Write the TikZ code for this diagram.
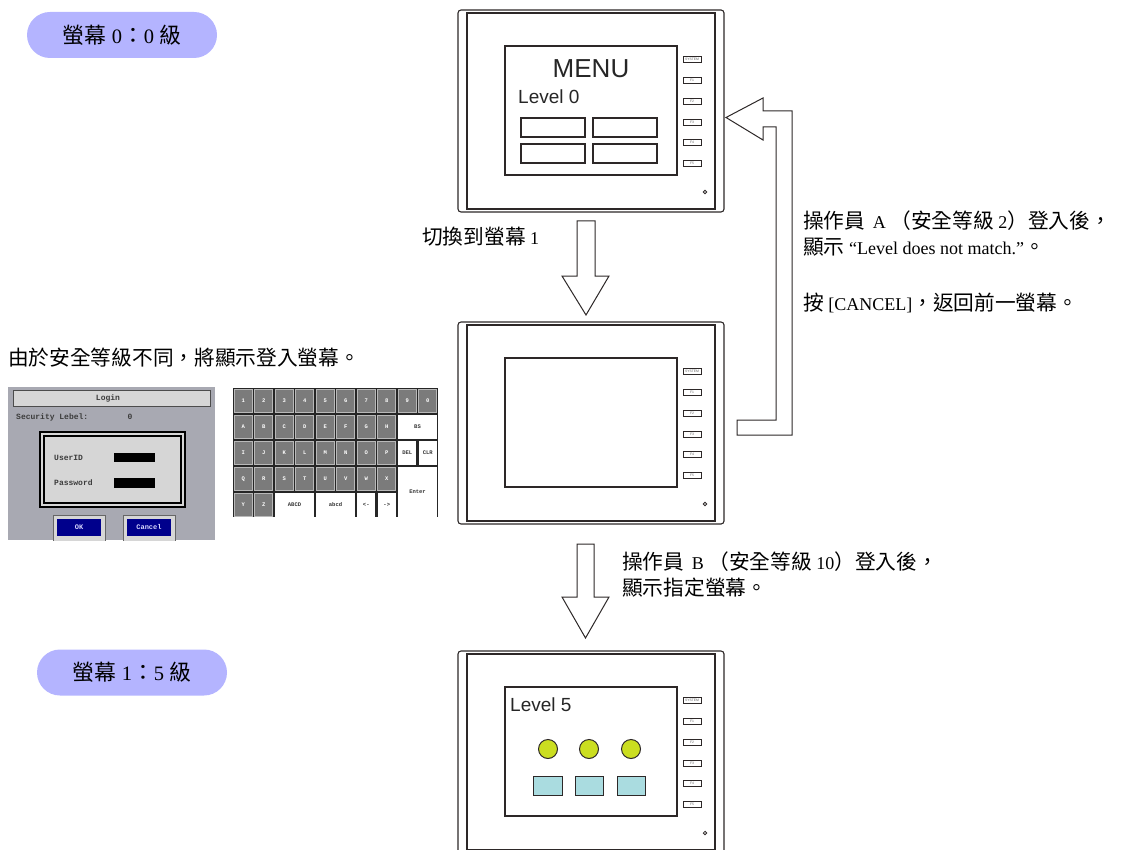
\documentclass[tikz,border=0pt]{standalone}
\usepackage{fontspec}
\setmainfont{Liberation Serif}
\newfontfamily\zhfont[Scale=1.15]{Noto Sans CJK TC}
\newfontfamily\zhpill[Scale=1.066]{Noto Sans CJK TC}
\newfontfamily\arialfont{Liberation Sans}
\newfontfamily\monofont{Liberation Mono}
\newcommand\zh[1]{{\zhfont #1}}
\newcommand\zp[1]{{\zhpill #1}}

\definecolor{pillblue}{RGB}{180,180,255}
\definecolor{outline}{RGB}{45,40,40}
\definecolor{lampgreen}{RGB}{203,222,32}
\definecolor{tilecyan}{RGB}{170,220,224}
\definecolor{loginbg}{RGB}{168,169,178}
\definecolor{loginlight}{RGB}{214,214,214}
\definecolor{logintext}{RGB}{60,60,60}
\definecolor{btnblue}{RGB}{0,0,140}
\definecolor{keygray}{RGB}{123,123,123}
\definecolor{keyedge}{RGB}{185,185,185}

% one operator panel: #1 = name prefix, #2 = top edge
\newcommand\hmipanel[2]{%
  \begin{scope}[shift={(0,#2)}]
    \draw[frame, rounded corners=3pt] (458,0) rectangle (724,202);
    \draw[frame] (467,3) rectangle (715,199);
    \node[screenbox] (#1-screen) at (591,100.5) {};
    \foreach \i/\lab in {0/SYSTEM,1/F1,2/F2,3/F3,4/F4,5/F5}
      {\node[fkey] (#1-key\i) at (692,{49.5+20.8*\i}) {\lab};}
    \node[led] (#1-led) at (705,182) {};
  \end{scope}}

% keyboard key: #1 col, #2 row, #3 col span, #4 row span, #5 style, #6 label
\newcommand\kbkey[6]{%
  \node[#5, minimum width={#3*20.5-2.4}, minimum height={#4*26-2.4}]
    (kb-#1-#2) at ({233+(#1+#3/2)*20.5},{388+(#2+#4/2)*26}) {#6};}

\begin{document}
\begin{tikzpicture}[x=1pt,y=-1pt,
  frame/.style={draw=outline, line width=1.1pt},
  screenbox/.style={draw=outline, line width=1.1pt, fill=white, inner sep=0pt,
    minimum width=172pt, minimum height=129pt},
  fkey/.style={draw=outline, line width=0.6pt, fill=white, inner sep=0pt,
    minimum width=18pt, minimum height=6pt, text=black!60,
    font=\arialfont\fontsize{3.4}{3.4}\selectfont},
  led/.style={circle, draw=outline, line width=0.8pt, inner sep=0pt, minimum size=3.4pt},
  menubtn/.style={draw=outline, line width=1.1pt, inner sep=0pt,
    minimum width=64pt, minimum height=19pt},
  lamp/.style={circle, draw=outline, line width=1pt, fill=lampgreen, inner sep=0pt,
    minimum size=19pt},
  tile/.style={draw=outline, line width=1pt, fill=tilecyan, inner sep=0pt,
    minimum height=19pt},
  pillbox/.style={fill=pillblue, rounded corners=23pt, inner sep=0pt,
    minimum width=190pt, minimum height=46pt,
    font=\fontsize{20.5}{20.5}\selectfont},
  note/.style={inner sep=0pt, anchor=west, align=left,
    font=\fontsize{18}{26}\selectfont},
  blockarrow/.style={draw=outline, line width=1pt, fill=white, line join=miter},
  logintxt/.style={inner sep=0pt, text=logintext,
    font=\monofont\bfseries\fontsize{8}{8}\selectfont},
  graykey/.style={fill=keygray, draw=keyedge, line width=1.2pt, inner sep=0pt,
    text=white, font=\monofont\bfseries\fontsize{5.5}{5.5}\selectfont},
  whitekey/.style={fill=white, inner sep=0pt, text=black!80,
    font=\monofont\bfseries\fontsize{5.5}{5.5}\selectfont}
]
\useasboundingbox (0,0) rectangle (1126,850);
\clip (0,0) rectangle (1126,850);

% ---- screen level labels ----
\node[pillbox] (lvlA) at (122,35) {\zp{螢幕} 0\zp{：}0 \zp{級}};
\node[pillbox] (lvlB) at (132,672.5) {\zp{螢幕} 1\zp{：}5 \zp{級}};

% ---- three operator panels ----
\hmipanel{menu}{10}
\hmipanel{login}{322}
\hmipanel{target}{651}

% MENU screen content
\node[inner sep=0pt, anchor=base, text=black!85,
  font=\arialfont\fontsize{26}{26}\selectfont] (menutitle) at (591,78) {MENU};
\node[inner sep=0pt, anchor=base west, text=black!85,
  font=\arialfont\fontsize{19}{19}\selectfont] (menulevel) at (518,104) {Level 0};
\node[menubtn] (mb1) at (553,127.5) {};
\node[menubtn] (mb2) at (625,127.5) {};
\node[menubtn] (mb3) at (553,153.5) {};
\node[menubtn] (mb4) at (625,153.5) {};

% level-5 screen content
\node[inner sep=0pt, anchor=base west, text=black!85,
  font=\arialfont\fontsize{19}{19}\selectfont] (tgtlevel) at (510,711) {Level 5};
\node[lamp] (lamp1) at (548,749) {};
\node[lamp] (lamp2) at (589,749) {};
\node[lamp] (lamp3) at (631,749) {};
\node[tile, minimum width=29pt] (tile1) at (547.5,785.5) {};
\node[tile, minimum width=28pt] (tile2) at (589,785.5) {};
\node[tile, minimum width=28pt] (tile3) at (631,785.5) {};

% ---- transition arrows ----
\draw[blockarrow] (577,221) -- (595,221) -- (595,276) -- (609,276) -- (586,315)
  -- (562,276) -- (577,276) -- cycle;
\draw[blockarrow] (577,544) -- (594,544) -- (594,597) -- (609,597) -- (585.5,638)
  -- (562,597) -- (577,597) -- cycle;
\draw[blockarrow] (737,420) -- (776,420) -- (776,127) -- (763,127) -- (763,140)
  -- (726,117.5) -- (763,98) -- (763,111) -- (792,111) -- (792,435) -- (737,435) -- cycle;

% ---- notes ----
\node[note] (nswitch) at (422,237) {\zh{切換到螢幕} 1};
\node[note] (nlogin) at (8,358) {\zh{由於安全等級不同，將顯示登入螢幕。}};
\node[note] (nopa) at (803,233) {\zh{操作員}\, A \zh{（安全等級} 2\zh{）登入後，}\\
  \zh{顯示} “Level does not match.”\zh{。}};
\node[note] (ncancel) at (803,303) {\zh{按} [CANCEL]\zh{，返回前一螢幕。}};
\node[note] (nopb) at (622,575) {\zh{操作員}\, B \zh{（安全等級} 10\zh{）登入後，}\\
  \zh{顯示指定螢幕。}};

% ---- login window ----
\fill[loginbg] (8,387) rectangle (215,540);
\node[draw=black!70, line width=1pt, fill=loginlight, inner sep=0pt,
  minimum width=197pt, minimum height=16pt] (ltitle) at (111.5,398) {};
\node[logintxt] (ltitletxt) at (108,398) {Login};
\node[logintxt, anchor=west] (lsec) at (16,417) {Security Lebel:};
\node[logintxt] (lsecval) at (130,417) {0};
\node[draw=black, line width=1.2pt, fill=loginlight, inner sep=0pt,
  minimum width=145pt, minimum height=75pt] (lframe) at (112.5,469.5) {};
\node[draw=black, line width=1.2pt, inner sep=0pt,
  minimum width=137pt, minimum height=67pt] (lframein) at (112.5,469.5) {};
\node[logintxt, anchor=west] (luser) at (54,458) {UserID};
\node[logintxt, anchor=west] (lpass) at (54,483) {Password};
\node[fill=black, inner sep=0pt, minimum width=41pt, minimum height=9pt] (luserbox) at (134.5,457.5) {};
\node[fill=black, inner sep=0pt, minimum width=41pt, minimum height=10pt] (lpassbox) at (134.5,483) {};
\begin{scope}
  \clip (8,387) rectangle (215,540);
  \node[fill=loginlight, draw=black!60, line width=0.6pt, inner sep=0pt,
    minimum width=52pt, minimum height=28pt] (okframe) at (79,529) {};
  \node[fill=btnblue, inner sep=0pt, minimum width=44pt, minimum height=17pt,
    text=white!85!blue, font=\monofont\bfseries\fontsize{7}{7}\selectfont] (okbtn) at (79,527) {OK};
  \node[fill=loginlight, draw=black!60, line width=0.6pt, inner sep=0pt,
    minimum width=52pt, minimum height=28pt] (cnframe) at (149,529) {};
  \node[fill=btnblue, inner sep=0pt, minimum width=44pt, minimum height=17pt,
    text=white!85!blue, font=\monofont\bfseries\fontsize{7}{7}\selectfont] (cnbtn) at (149,527) {Cancel};
\end{scope}

% ---- software keyboard ----
\begin{scope}
  \clip (233,388) rectangle (438,516);
  \fill[black!85] (233,388) rectangle (438,518);
  \foreach \c/\k in {0/1,1/2,2/3,3/4,4/5,5/6,6/7,7/8,8/9,9/0}
    {\kbkey{\c}{0}{1}{1}{graykey}{\k}}
  \foreach \c/\k in {0/A,1/B,2/C,3/D,4/E,5/F,6/G,7/H}
    {\kbkey{\c}{1}{1}{1}{graykey}{\k}}
  \foreach \c/\k in {0/I,1/J,2/K,3/L,4/M,5/N,6/O,7/P}
    {\kbkey{\c}{2}{1}{1}{graykey}{\k}}
  \foreach \c/\k in {0/Q,1/R,2/S,3/T,4/U,5/V,6/W,7/X}
    {\kbkey{\c}{3}{1}{1}{graykey}{\k}}
  \kbkey{0}{4}{1}{1}{graykey}{Y}
  \kbkey{1}{4}{1}{1}{graykey}{Z}
  \kbkey{8}{1}{2}{1}{whitekey}{BS}
  \kbkey{8}{2}{1}{1}{whitekey}{DEL}
  \kbkey{9}{2}{1}{1}{whitekey}{CLR}
  \kbkey{8}{3}{2}{2}{whitekey}{Enter}
  \kbkey{2}{4}{2}{1}{whitekey}{ABCD}
  \kbkey{4}{4}{2}{1}{whitekey}{abcd}
  \kbkey{6}{4}{1}{1}{whitekey}{<-}
  \kbkey{7}{4}{1}{1}{whitekey}{->}
\end{scope}
\end{tikzpicture}
\end{document}
